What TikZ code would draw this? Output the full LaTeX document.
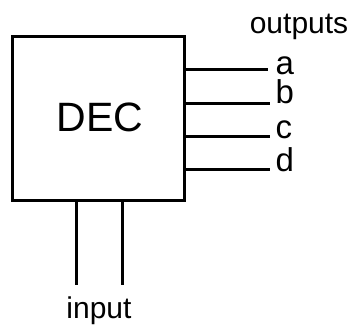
\documentclass[tikz,border=0pt]{standalone}
\usepackage{fontspec}
\setmainfont{Liberation Sans}
\begin{document}
\begin{tikzpicture}[x=1pt,y=-1pt,
  wire/.style={line width=3pt},
  decbox/.style={draw,line width=3pt,minimum width=172pt,minimum height=164pt,inner sep=0pt},
  lbl/.style={inner sep=0pt,text height=24pt,text depth=0pt,font=\fontsize{33}{33}\selectfont},
  captxt/.style={inner sep=0pt,font=\fontsize{30}{30}\selectfont}]
\useasboundingbox (0,0) rectangle (352,327);
\node[decbox] (dec) at (98.85,118.6) {};
\node[inner sep=0pt,anchor=base,font=\fontsize{41}{41}\selectfont] (dectxt) at (100,131.5) {DEC};
\coordinate (oa) at (185,69.3);
\coordinate (ob) at (185,103.3);
\coordinate (oc) at (185,136);
\coordinate (od) at (185,169.3);
\node[lbl,anchor=base west] (la) at (275.5,74.5) {a};
\node[lbl,anchor=base west] (lb) at (275.5,103.5) {b};
\node[lbl,anchor=base west] (lc) at (275.5,138) {c};
\node[lbl,anchor=base west] (ld) at (275.5,171.5) {d};
\coordinate (ea) at (268,69.3);
\coordinate (eb) at (270,103.3);
\coordinate (ec) at (270,136);
\coordinate (ed) at (270,169.3);
\draw[wire] (oa) -- (ea);
\draw[wire] (ob) -- (eb);
\draw[wire] (oc) -- (ec);
\draw[wire] (od) -- (ed);
\node[captxt,anchor=base] (outs) at (299,33.3) {outputs};
\coordinate (i1) at (76,200.5);
\coordinate (i2) at (122,200.5);
\coordinate (j1) at (76,285);
\coordinate (j2) at (122,285);
\draw[wire] (i1) -- (j1);
\draw[wire] (i2) -- (j2);
\node[captxt,anchor=base] (inp) at (99,318.3) {input};
\end{tikzpicture}
\end{document}
